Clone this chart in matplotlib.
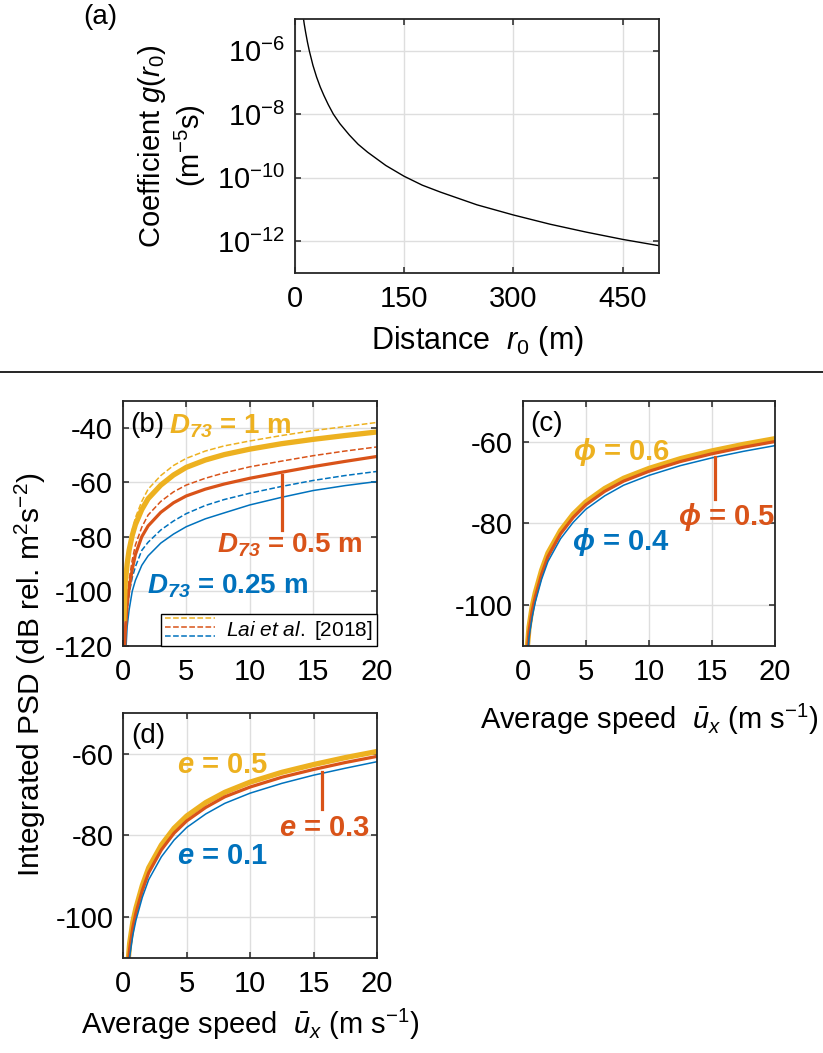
import numpy as np
import matplotlib
matplotlib.use("Agg")
import matplotlib.pyplot as plt
from matplotlib.lines import Line2D
from matplotlib.legend_handler import HandlerBase
from matplotlib.ticker import FixedLocator, NullLocator

plt.rcParams.update({
    "font.family": ["Liberation Sans", "DejaVu Sans"],
    "mathtext.fontset": "custom",
    "mathtext.rm": "Liberation Sans",
    "mathtext.it": "Liberation Sans:italic",
    "mathtext.bf": "Liberation Sans:bold",
    "mathtext.sf": "Liberation Sans:bold:italic",
    "axes.unicode_minus": False,
})

# colours (MATLAB defaults)
BLUE = "#0072BD"
RED = "#D95319"
YELLOW = "#EDB120"

# ---- panel (a): coefficient g(r0) vs distance
r0 = [11.5, 13, 15, 17.5, 20, 25, 30, 35, 40, 46, 53, 62, 75, 87, 100, 125, 150, 175,
      200, 250, 300, 350, 400, 450, 500]
g_r0 = [1.26e-5, 7.1e-6, 3.8e-6, 1.86e-6, 1.0e-6, 3.47e-7, 1.48e-7, 7.2e-8, 3.9e-8,
        2.0e-8, 1.0e-8, 5.0e-9, 2.19e-9, 1.12e-9, 6.3e-10, 2.4e-10, 1.1e-10, 5.75e-11,
        3.47e-11, 1.38e-11, 6.6e-12, 3.39e-12, 1.9e-12, 1.12e-12, 7.08e-13]

# ---- speed grid shared by panels (b)-(d)
u = [0.1, 0.2, 0.35, 0.5, 0.75, 1, 1.5, 2, 3, 4, 5, 6.5, 8, 10, 12.5, 15, 17.5, 20]

# (b) D73 = 1, 0.5, 0.25 m; this model (solid) and Lai et al. 2018 (dashed)
b_d1 = [-110, -97, -90, -85, -79.5, -75.5, -70, -66, -61, -57.3, -54.5, -51.8, -49.8, -47.8, -45.8, -44.2, -42.8, -41.5]
b_d05 = [-128, -115, -105, -99, -92, -86.5, -80, -76, -71, -67.5, -65.0, -62.5, -60.6, -58.5, -56.3, -54.2, -52.3, -50.5]
b_d025 = [-140, -126, -113, -107, -100, -96, -90.5, -87, -82.3, -79, -76.3, -73.4, -71.2, -68.3, -65.5, -63.0, -61.2, -59.7]
b_d1_lai = [-108, -95, -87.5, -83, -77.5, -73, -67, -62.5, -57.5, -53.8, -51.2, -48.5, -46.6, -44.8, -42.8, -41.0, -39.5, -38.0]
b_d05_lai = [-125, -112, -102, -96, -88.5, -83, -76.5, -72, -67, -63.5, -61.0, -58.5, -56.5, -54.3, -52.2, -50.2, -48.5, -47.0]
b_d025_lai = [-135, -120, -108, -101, -95, -91, -85, -82, -77.5, -74.2, -71.5, -68.5, -66.3, -64.0, -61.5, -59.3, -57.5, -56.0]

# (c) phi = 0.6, 0.5, 0.4
c_p06 = [-133, -122, -111, -105.5, -100.5, -97, -91.5, -87.3, -81.8, -77.8, -74.8, -71.5, -69.0, -66.6, -64.2, -62.3, -60.7, -59.3]
c_p05 = [-135, -124, -112.5, -106.5, -101.5, -98, -92.5, -88.2, -82.6, -78.6, -75.5, -72.2, -69.7, -67.3, -64.9, -63.0, -61.4, -60.0]
c_p04 = [-137, -126, -114, -108, -103, -99.3, -93.7, -89.4, -83.8, -79.8, -76.6, -73.3, -70.7, -68.3, -65.9, -64.0, -62.4, -61.0]

# (d) e = 0.5, 0.3, 0.1
d_e05 = [-134, -123, -112, -106.5, -101.3, -97.8, -92.3, -88.0, -82.4, -78.3, -75.3, -72.0, -69.5, -67.0, -64.6, -62.7, -61.0, -59.5]
d_e03 = [-136, -124.5, -113.5, -107.8, -102.6, -99, -93.5, -89.2, -83.6, -79.5, -76.5, -73.2, -70.6, -68.2, -65.8, -63.9, -62.2, -60.7]
d_e01 = [-138, -126.5, -115.5, -109.8, -104.5, -100.8, -95.2, -90.9, -85.3, -81.2, -78.1, -74.8, -72.2, -69.7, -67.3, -65.3, -63.6, -62.0]

# leader lines for the middle-curve labels (x, [y0, y1])
b_lead = (12.55, [-57.2, -77.4])
c_lead = (15.25, [-63.9, -74.0])
d_lead = (15.7, [-64.4, -73.7])

speed_xticks = [0, 5, 10, 15, 20]

TICK = 21
LABEL = 21
ANNOT = 21


class StackedLines(HandlerBase):
    # three short dashed lines stacked above each other
    def create_artists(self, legend, orig_handle, xdescent, ydescent,
                       width, height, fontsize, trans):
        arts = []
        yc = (height - ydescent) / 2
        for i, h in enumerate(orig_handle):
            y = yc + (1 - i) * 0.42 * fontsize
            ln = Line2D([-xdescent, -xdescent + width], [y, y], color=h.get_color(),
                        linestyle="--", linewidth=h.get_linewidth())
            ln.set_transform(trans)
            arts.append(ln)
        return arts


def style(ax, size=TICK):
    ax.grid(True, color="#dedede", lw=1.0)
    ax.set_axisbelow(True)
    ax.tick_params(direction="in", top=True, right=True, length=4, width=1.1,
                   color="#262626", labelsize=size)
    ax.tick_params(axis="x", pad=9)
    ax.tick_params(axis="y", pad=7)
    for s in ax.spines.values():
        s.set_linewidth(1.3)
        s.set_color("#262626")


W, H = 823, 1053
fig = plt.figure(figsize=(W / 100, H / 100), dpi=100)


def axes_px(left, top, right, bottom):
    return fig.add_axes([left / W, 1 - bottom / H, (right - left) / W, (bottom - top) / H])


# ---------------- (a)
ax_a = axes_px(294.7, 19, 659.3, 272.7)
ax_a.plot(r0, g_r0, color="k", lw=1.0)
ax_a.set_yscale("log")
ax_a.set_xlim(0, 500)
ax_a.set_ylim(1e-13, 1e-5)
ax_a.set_xticks([0, 150, 300, 450])
ax_a.yaxis.set_major_locator(FixedLocator([1e-12, 1e-10, 1e-8, 1e-6]))
ax_a.yaxis.set_minor_locator(NullLocator())
ax_a.set_yticklabels([r"$10^{-12}$", r"$10^{-10}$", r"$10^{-8}$", r"$10^{-6}$"])
style(ax_a, 21)
ax_a.set_xlabel(r"Distance  $\mathit{r_0}$ (m)", fontsize=22, labelpad=8)
ax_a.set_ylabel("Coefficient $\\mathit{g}$($\\mathit{r_0}$)\n(m$^{-5}$s)", fontsize=21, labelpad=6)
fig.text(100 / W, 1 - 17 / H, "(a)", ha="center", va="center", fontsize=20)

# separator
fig.add_artist(Line2D([0, 1], [1 - 372 / H, 1 - 372 / H], transform=fig.transFigure,
                      color="k", lw=1.2))

# ---------------- (b)
ax_b = axes_px(122.7, 400.7, 376.7, 645.7)
lai = []
for vals, col in [(b_d1_lai, YELLOW), (b_d05_lai, RED), (b_d025_lai, BLUE)]:
    ln, = ax_b.plot(u, vals, color=col, lw=1.1, ls="--")
    lai.append(ln)
ax_b.plot(u, b_d025, color=BLUE, lw=1.1)
ax_b.plot(u, b_d05, color=RED, lw=2.3)
ax_b.plot(u, b_d1, color=YELLOW, lw=3.8)
ax_b.plot([b_lead[0]] * 2, b_lead[1], color=RED, lw=2.3)
ax_b.set_xlim(0, 20)
ax_b.set_ylim(-120, -30)
ax_b.set_xticks(speed_xticks)
ax_b.set_yticks([-120, -100, -80, -60, -40])
style(ax_b)
ax_b.text(0.03, 0.90, "(b)", transform=ax_b.transAxes, fontsize=20, va="center")
ax_b.text(3.65, -41.9, r"$\mathsf{D_{73}}$ = 1 m", color=YELLOW, fontsize=20, weight="bold")
ax_b.text(7.42, -85.6, r"$\mathsf{D_{73}}$ = 0.5 m", color=RED, fontsize=20, weight="bold")
ax_b.text(1.9, -100.7, r"$\mathsf{D_{73}}$ = 0.25 m", color=BLUE, fontsize=20, weight="bold")
leg = ax_b.legend([tuple(lai)], [r"$\mathit{Lai\ et\ al.}$ [2018]"],
                  handler_map={tuple: StackedLines()}, loc="lower right",
                  borderaxespad=0, fancybox=False, framealpha=1, edgecolor="k",
                  fontsize=15, handlelength=2.4, handleheight=1.1,
                  handletextpad=0.5, borderpad=0.2)
leg.get_frame().set_linewidth(1.0)

# ---------------- (c)
ax_c = axes_px(522.7, 400.7, 775, 645.7)
ax_c.plot(u, c_p06, color=YELLOW, lw=3.8)
ax_c.plot(u, c_p05, color=RED, lw=2.3)
ax_c.plot(u, c_p04, color=BLUE, lw=1.1)
ax_c.plot([c_lead[0]] * 2, c_lead[1], color=RED, lw=2.3)
ax_c.set_xlim(0, 20)
ax_c.set_ylim(-110, -50)
ax_c.set_xticks(speed_xticks)
ax_c.set_yticks([-100, -80, -60])
style(ax_c)
ax_c.text(0.03, 0.905, "(c)", transform=ax_c.transAxes, fontsize=20, va="center")
ax_c.text(4.0, -64.6, r"$\mathsf{ϕ}$ = 0.6", color=YELLOW, fontsize=ANNOT, weight="bold")
ax_c.text(12.34, -80.4, r"$\mathsf{ϕ}$ = 0.5", color=RED, fontsize=ANNOT, weight="bold")
ax_c.text(3.88, -86.5, r"$\mathsf{ϕ}$ = 0.4", color=BLUE, fontsize=ANNOT, weight="bold")
ax_c.set_xlabel(r"Average speed  $\bar{\mathit{u}}_{\mathit{x}}$ (m s$^{-1}$)", fontsize=LABEL, labelpad=11)

# ---------------- (d)
ax_d = axes_px(123.3, 712.7, 377, 957.7)
ax_d.plot(u, d_e05, color=YELLOW, lw=3.8)
ax_d.plot(u, d_e03, color=RED, lw=2.3)
ax_d.plot(u, d_e01, color=BLUE, lw=1.1)
ax_d.plot([d_lead[0]] * 2, d_lead[1], color=RED, lw=2.3)
ax_d.set_xlim(0, 20)
ax_d.set_ylim(-110, -50)
ax_d.set_xticks(speed_xticks)
ax_d.set_yticks([-100, -80, -60])
style(ax_d)
ax_d.text(0.03, 0.905, "(d)", transform=ax_d.transAxes, fontsize=20, va="center")
ax_d.text(4.2, -64.8, r"$\mathsf{e}$ = 0.5", color=YELLOW, fontsize=ANNOT, weight="bold")
ax_d.text(12.3, -80.1, r"$\mathsf{e}$ = 0.3", color=RED, fontsize=ANNOT, weight="bold")
ax_d.text(4.2, -87.1, r"$\mathsf{e}$ = 0.1", color=BLUE, fontsize=ANNOT, weight="bold")
ax_d.set_xlabel(r"Average speed  $\bar{\mathit{u}}_{\mathit{x}}$ (m s$^{-1}$)", fontsize=LABEL, labelpad=6)

fig.text(30 / W, 1 - 675 / H, "Integrated PSD (dB rel. m$^2$s$^{-2}$)", rotation=90,
         ha="center", va="center", fontsize=21.5)

fig.savefig("out.png", dpi=100)
